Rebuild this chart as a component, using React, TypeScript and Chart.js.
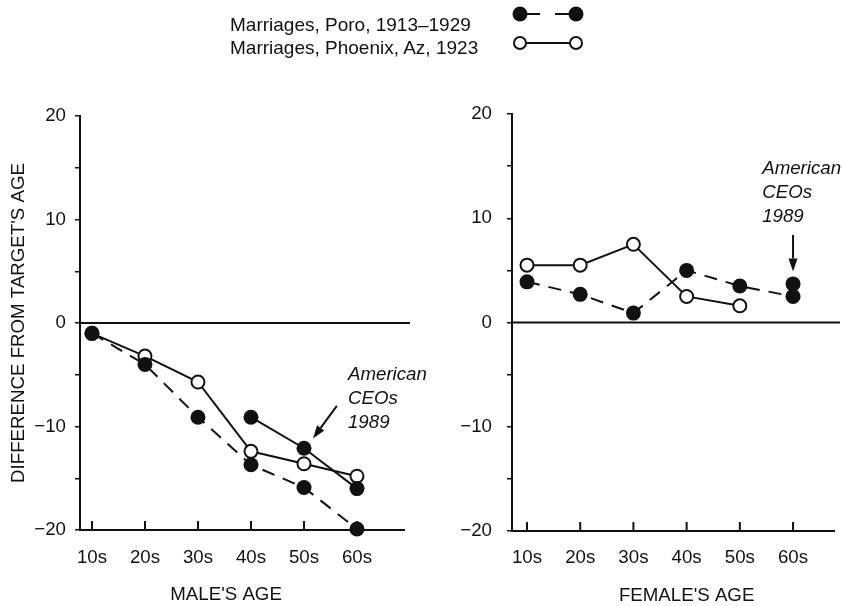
import React, { useEffect, useRef } from 'react';
import { Chart, registerables } from 'chart.js';

Chart.register(...registerables);

// ---------- data ----------
const ageLabels = ['10s', '20s', '30s', '40s', '50s', '60s'];
const ageX = [1, 2, 3, 4, 5, 6];
const yTickValues = [-20, -15, -10, -5, 0, 5, 10, 15, 20];

const malePoro = [-1.0, -4.0, -9.1, -13.7, -15.9, -19.9];
const malePhoenix = [-1.0, -3.2, -5.7, -12.4, -13.6, -14.8];
const maleCEOs = [null, null, null, -9.1, -12.1, -16.0];

const femalePoro = [3.9, 2.7, 0.9, 5.0, 3.5, 2.5];
const femalePhoenix = [5.5, 5.5, 7.5, 2.5, 1.6, null];
const femaleCEOs = [null, null, null, null, null, 3.7];

const legendLabels = ['Marriages, Poro, 1913–1929', 'Marriages, Phoenix, Az, 1923'];
const noteLines = ['American', 'CEOs', '1989'];
const yTitleText = "DIFFERENCE FROM TARGET'S AGE";
const maleTitleText = "MALE'S AGE";
const femaleTitleText = "FEMALE'S AGE";

const FONT = '"Liberation Sans", Arial, Helvetica, sans-serif';
const INK = '#111';
const TEXT_SIZE = 18.7;

type Note = { x: number; y: number; ax1: number; ay1: number; ax2: number; ay2: number };
type PanelCfg = {
  width: number;
  height: number;
  padTop: number;
  padRight: number;
  yWidth: number;
  xHeight: number;
  yLabelPad: number;
  xLabelPad: number;
  xMin: number;
  xMax: number;
  showYTitle: boolean;
  xTitle: string;
  xTitleAt: number;
  poro: (number | null)[];
  phoenix: (number | null)[];
  ceos: (number | null)[];
  note: Note;
};

const toPoints = (vals: (number | null)[]) => vals.map((v, i) => ({ x: ageX[i], y: v }));
const fmt = (v: number) => (v < 0 ? '−' + Math.abs(v) : String(v));

function drawArrow(ctx: CanvasRenderingContext2D, x1: number, y1: number, x2: number, y2: number) {
  const ang = Math.atan2(y2 - y1, x2 - x1);
  const head = 13;
  const hw = 4.5;
  const bx = x2 - head * Math.cos(ang);
  const by = y2 - head * Math.sin(ang);
  ctx.beginPath();
  ctx.moveTo(x1, y1);
  ctx.lineTo(bx, by);
  ctx.lineWidth = 2;
  ctx.strokeStyle = INK;
  ctx.stroke();
  ctx.beginPath();
  ctx.moveTo(x2, y2);
  ctx.lineTo(bx + hw * Math.sin(ang), by - hw * Math.cos(ang));
  ctx.lineTo(bx - hw * Math.sin(ang), by + hw * Math.cos(ang));
  ctx.closePath();
  ctx.fillStyle = INK;
  ctx.fill();
}

function makePanel(canvas: HTMLCanvasElement, cfg: PanelCfg) {
  const decor = {
    id: 'decor',
    beforeDatasetsDraw(chart: any) {
      const { ctx, chartArea } = chart;
      const xs = chart.scales.x;
      const ys = chart.scales.y;
      ctx.save();
      ctx.strokeStyle = INK;
      // zero line
      const y0 = ys.getPixelForValue(0);
      ctx.lineWidth = 2;
      ctx.beginPath();
      ctx.moveTo(chartArea.left, y0);
      ctx.lineTo(chartArea.right + 6, y0);
      ctx.stroke();
      // inward x tick marks
      ctx.lineWidth = 2;
      ageX.forEach((v) => {
        const px = xs.getPixelForValue(v);
        ctx.beginPath();
        ctx.moveTo(px, chartArea.bottom);
        ctx.lineTo(px, chartArea.bottom - 9);
        ctx.stroke();
      });
      ctx.restore();
    },
    afterDraw(chart: any) {
      const { ctx, chartArea } = chart;
      const xs = chart.scales.x;
      const ys = chart.scales.y;
      ctx.save();
      // x title
      ctx.fillStyle = INK;
      ctx.font = `${TEXT_SIZE}px ${FONT}`;
      ctx.textAlign = 'center';
      ctx.textBaseline = 'middle';
      ctx.fillText(cfg.xTitle, xs.getPixelForValue(cfg.xTitleAt), chartArea.bottom + 65);
      // annotation
      const n = cfg.note;
      ctx.font = `italic ${TEXT_SIZE}px ${FONT}`;
      ctx.textAlign = 'left';
      ctx.textBaseline = 'alphabetic';
      const tx = xs.getPixelForValue(n.x);
      const ty = ys.getPixelForValue(n.y);
      noteLines.forEach((line, i) => ctx.fillText(line, tx, ty + i * 24));
      drawArrow(
        ctx,
        xs.getPixelForValue(n.ax1),
        ys.getPixelForValue(n.ay1),
        xs.getPixelForValue(n.ax2),
        ys.getPixelForValue(n.ay2)
      );
      ctx.restore();
    },
  };

  const tickFont = { family: FONT, size: TEXT_SIZE };

  return new Chart(canvas, {
    type: 'line',
    data: {
      datasets: [
        {
          label: legendLabels[0],
          data: toPoints(cfg.poro) as any,
          borderColor: INK,
          backgroundColor: INK,
          borderWidth: 2,
          borderDash: [13, 9],
          pointRadius: 7.5,
          pointBorderWidth: 0,
          pointBackgroundColor: INK,
          fill: false,
          clip: false,
        },
        {
          label: 'American CEOs 1989',
          data: toPoints(cfg.ceos) as any,
          borderColor: INK,
          backgroundColor: INK,
          borderWidth: 2,
          pointRadius: 7.5,
          pointBorderWidth: 0,
          pointBackgroundColor: INK,
          fill: false,
          clip: false,
        },
        {
          label: legendLabels[1],
          data: toPoints(cfg.phoenix) as any,
          borderColor: INK,
          backgroundColor: '#fff',
          borderWidth: 2,
          pointRadius: 6.5,
          pointBorderWidth: 2,
          pointBorderColor: INK,
          pointBackgroundColor: '#fff',
          fill: false,
          clip: false,
        },
      ],
    },
    options: {
      responsive: false,
      animation: false,
      events: [],
      layout: { padding: { top: cfg.padTop, right: cfg.padRight, left: 0, bottom: 0 } },
      plugins: { legend: { display: false }, tooltip: { enabled: false } },
      scales: {
        x: {
          type: 'linear',
          min: cfg.xMin,
          max: cfg.xMax,
          afterBuildTicks: (s: any) => {
            s.ticks = ageX.map((v) => ({ value: v }));
          },
          afterFit: (s: any) => {
            s.height = cfg.xHeight;
          },
          grid: { display: false, drawTicks: false },
          border: { display: true, color: INK, width: 2 },
          ticks: {
            autoSkip: false,
            maxRotation: 0,
            padding: cfg.xLabelPad,
            color: INK,
            font: tickFont,
            callback: (v: any) => {
              const i = ageX.indexOf(Number(v));
              return i >= 0 ? ageLabels[i] : '';
            },
          },
        },
        y: {
          type: 'linear',
          min: -20,
          max: 20,
          afterBuildTicks: (s: any) => {
            s.ticks = yTickValues.map((v) => ({ value: v }));
          },
          afterFit: (s: any) => {
            s.width = cfg.yWidth;
          },
          grid: { drawOnChartArea: false, drawTicks: true, tickLength: 5, color: INK, lineWidth: 1.5 },
          border: { display: true, color: INK, width: 2 },
          ticks: {
            padding: cfg.yLabelPad,
            color: INK,
            font: tickFont,
            callback: (v: any) => (Number(v) % 10 === 0 ? fmt(Number(v)) : ''),
          },
          title: cfg.showYTitle
            ? { display: true, text: yTitleText, color: INK, font: tickFont, padding: { top: 8, bottom: 0 } }
            : { display: false },
        },
      },
    } as any,
    plugins: [decor],
  });
}

const leftCfg: PanelCfg = {
  width: 430,
  height: 606,
  padTop: 116,
  padRight: 26,
  yWidth: 80,
  xHeight: 76,
  yLabelPad: 9,
  xLabelPad: 17,
  xMin: 0.774,
  xMax: 6.887,
  showYTitle: true,
  xTitle: maleTitleText,
  xTitleAt: 3.53,
  poro: malePoro,
  phoenix: malePhoenix,
  ceos: maleCEOs,
  note: { x: 5.83, y: -5.5, ax1: 5.62, ay1: -8.0, ax2: 5.17, ay2: -11.15 },
};

const rightCfg: PanelCfg = {
  width: 417,
  height: 606,
  padTop: 114,
  padRight: 13,
  yWidth: 82,
  xHeight: 75,
  yLabelPad: 15,
  xLabelPad: 16,
  xMin: 0.718,
  xMax: 6.77,
  showYTitle: false,
  xTitle: femaleTitleText,
  xTitleAt: 4.0,
  poro: femalePoro,
  phoenix: femalePhoenix,
  ceos: femaleCEOs,
  note: { x: 5.42, y: 14.2, ax1: 6.0, ay1: 8.4, ax2: 6.0, ay2: 4.9 },
};

export default function App() {
  const leftRef = useRef<HTMLCanvasElement>(null);
  const rightRef = useRef<HTMLCanvasElement>(null);

  useEffect(() => {
    const a = makePanel(leftRef.current!, leftCfg);
    const b = makePanel(rightRef.current!, rightCfg);
    return () => {
      a.destroy();
      b.destroy();
    };
  }, []);

  const textStyle: React.CSSProperties = {
    position: 'absolute',
    left: 230,
    fontFamily: FONT,
    fontSize: 19,
    lineHeight: '23px',
    color: INK,
    whiteSpace: 'nowrap',
  };

  return (
    <div style={{ position: 'absolute', left: 0, top: 0, width: 847, height: 606, background: '#fff', overflow: 'hidden' }}>
      <canvas
        ref={leftRef}
        width={leftCfg.width}
        height={leftCfg.height}
        style={{ position: 'absolute', left: 0, top: 0, width: leftCfg.width, height: leftCfg.height }}
      />
      <canvas
        ref={rightRef}
        width={rightCfg.width}
        height={rightCfg.height}
        style={{ position: 'absolute', left: 430, top: 0, width: rightCfg.width, height: rightCfg.height }}
      />
      <div style={{ ...textStyle, top: 13 }}>{legendLabels[0]}</div>
      <div style={{ ...textStyle, top: 36 }}>{legendLabels[1]}</div>
      <svg width={847} height={70} style={{ position: 'absolute', left: 0, top: 0 }}>
        <line x1={527} y1={14} x2={540} y2={14} stroke={INK} strokeWidth={2} />
        <line x1={555} y1={14} x2={569} y2={14} stroke={INK} strokeWidth={2} />
        <circle cx={520} cy={14} r={7.5} fill={INK} />
        <circle cx={576} cy={14} r={7.5} fill={INK} />
        <line x1={526} y1={43} x2={570} y2={43} stroke={INK} strokeWidth={2} />
        <circle cx={520} cy={43} r={6} fill="#fff" stroke={INK} strokeWidth={2} />
        <circle cx={576} cy={43} r={6} fill="#fff" stroke={INK} strokeWidth={2} />
      </svg>
    </div>
  );
}
